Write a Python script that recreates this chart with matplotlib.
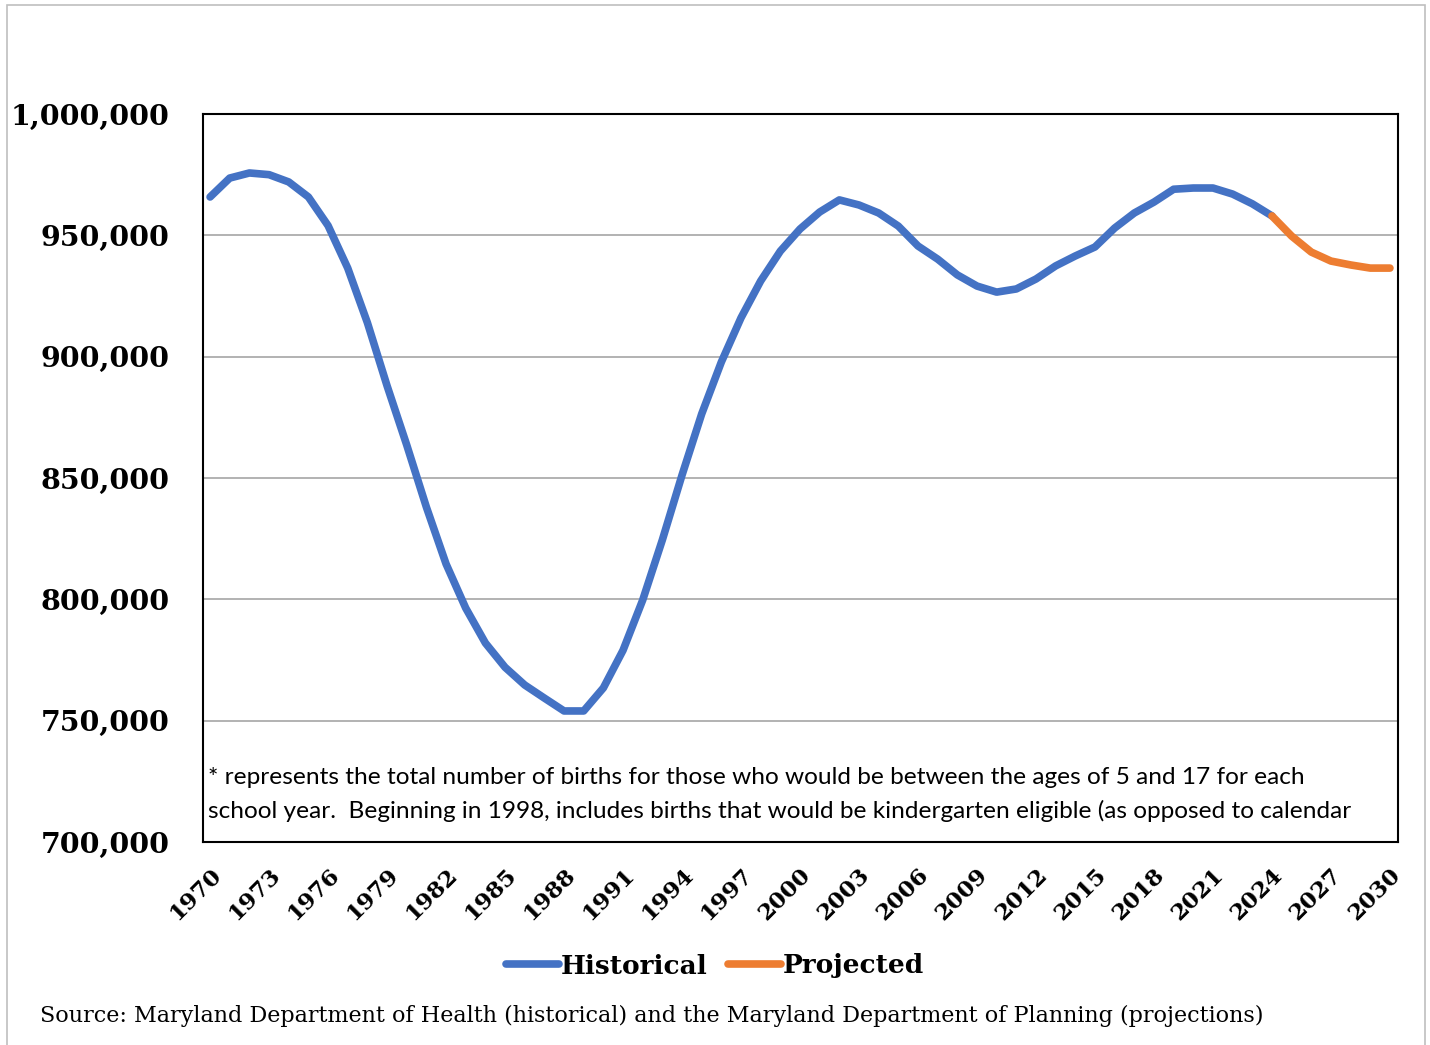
import matplotlib
matplotlib.use("Agg")
import matplotlib.pyplot as plt
from matplotlib.patches import Rectangle
from matplotlib.ticker import FuncFormatter

# births (thousands) for school-age cohorts
hist_years = list(range(1970, 2025))
hist_vals = [965.8, 973.6, 975.7, 975.0, 972.0, 965.8, 954.0, 936.5, 914.0, 888.0,
             863.6, 838.0, 814.6, 796.4, 782.0, 772.0, 764.7, 759.3, 754.0, 754.0,
             763.5, 779.0, 799.7, 824.5, 851.2, 876.4, 897.8, 916.0, 931.2, 943.5,
             952.6, 959.6, 964.6, 962.5, 959.2, 953.8, 945.6, 940.2, 933.7, 929.1,
             926.6, 927.9, 932.0, 937.4, 941.5, 945.2, 953.0, 959.2, 963.7, 969.0,
             969.5, 969.5, 967.0, 963.0, 958.0]
proj_years = list(range(2024, 2031))
proj_vals = [958.0, 949.7, 943.1, 939.4, 937.8, 936.5, 936.5]
tick_years = list(range(1970, 2031, 3))

note_lines = [
    "* represents the total number of births for those who would be between the ages of 5 and 17 for each",
    "school year.  Beginning in 1998, includes births that would be kindergarten eligible (as opposed to calendar",
]

BLUE = "#4472C4"
ORANGE = "#ED7D31"
SERIF = "DejaVu Serif"

fig = plt.figure(figsize=(14.3, 10.45), dpi=100)
fig.patches.append(Rectangle((7 / 1430, -0.05), 1418 / 1430, 1.05 - 5 / 1045,
                             transform=fig.transFigure, fill=False,
                             edgecolor="#BFBFBF", linewidth=1.2))

ax = fig.add_axes([203 / 1430, 1 - 842 / 1045, 1195 / 1430, 728 / 1045])
ax.plot(hist_years, [v * 1000 for v in hist_vals], color=BLUE, linewidth=5.5,
        solid_capstyle="round", solid_joinstyle="round", label="Historical", zorder=3)
ax.plot(proj_years, [v * 1000 for v in proj_vals], color=ORANGE, linewidth=5.5,
        solid_capstyle="round", solid_joinstyle="round", label="Projected", zorder=3)

ax.set_ylim(700000, 1000000)
ax.set_xlim(1969.64, 2030.41)
ax.set_yticks(range(700000, 1000001, 50000))
ax.yaxis.set_major_formatter(FuncFormatter(lambda v, p: f"{int(v):,}"))
ax.set_xticks(tick_years)
ax.set_xticklabels([str(y) for y in tick_years], rotation=45, ha="right",
                   va="top", rotation_mode="anchor")
for lab in ax.get_yticklabels():
    lab.set_fontfamily(SERIF)
    lab.set_fontweight("bold")
    lab.set_fontsize(20.5)
for lab in ax.get_xticklabels():
    lab.set_fontfamily(SERIF)
    lab.set_fontweight("bold")
    lab.set_fontsize(16.5)
ax.tick_params(axis="y", length=0, pad=24)
ax.tick_params(axis="x", length=0, pad=16)
ax.yaxis.grid(True, color="#A6A6A6", linewidth=1.2)
ax.set_axisbelow(True)
for s in ax.spines.values():
    s.set_edgecolor("black")
    s.set_linewidth(1.5)

for line, yfrac in zip(note_lines, [(842 - 778) / 728, (842 - 811) / 728]):
    ax.text(0.004, yfrac, line, transform=ax.transAxes, ha="left", va="center",
            fontsize=17.6, family="Lato")

leg = fig.legend(loc="center", bbox_to_anchor=(0.5, 1 - 966 / 1045), ncol=2,
                 frameon=False, handlelength=2.0, handletextpad=0.05, columnspacing=0.8,
                 prop={"family": SERIF, "weight": "bold", "size": 19})

fig.text(40 / 1430, 1 - 1016 / 1045,
         "Source: Maryland Department of Health (historical) and the Maryland Department of Planning (projections)",
         ha="left", va="center", fontsize=16, family=SERIF)

fig.savefig("out.png", dpi=100, facecolor="white")
